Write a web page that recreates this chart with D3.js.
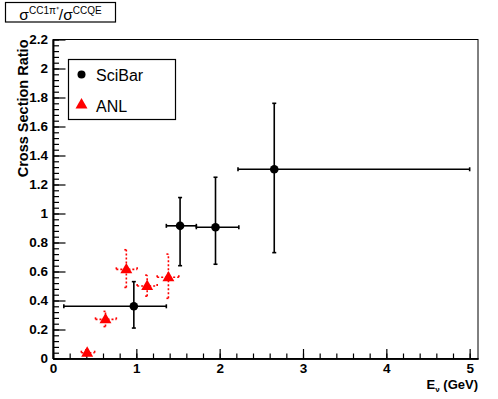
<!DOCTYPE html>
<html>
<head>
<meta charset="utf-8">
<script src="https://cdn.jsdelivr.net/npm/d3@7"></script>
<style>
  body { margin: 0; background: #fff; }
  svg { display: block; font-family: "Liberation Sans", Arial, sans-serif; }
</style>
</head>
<body>
<svg class="chart" width="498" height="399"></svg>
<script>
// SciBar points: energy (GeV), ratio, and the error bar ends
let sciE    = [0.97, 1.525, 1.95, 2.655]
let sciR    = [0.36, 0.915, 0.905, 1.305]
let sciELo  = [0.13, 1.36, 1.72, 2.22]
let sciEHi  = [1.36, 1.72, 2.23, 5.0]
let sciRLo  = [0.21, 0.64, 0.65, 0.73]
let sciRHi  = [0.53, 1.11, 1.25, 1.76]

// ANL points
let anlE    = [0.41, 0.63, 0.88, 1.13, 1.385]
let anlR    = [0.04, 0.27, 0.615, 0.50, 0.56]
let anlELo  = [0.34, 0.51, 0.76, 1.01, 1.25]
let anlEHi  = [0.50, 0.76, 1.01, 1.25, 1.51]
let anlRLo  = [0.02, 0.22, 0.49, 0.43, 0.415]
let anlRHi  = [0.06, 0.325, 0.75, 0.575, 0.72]

let xTicks = [0, 1, 2, 3, 4, 5]
let yTicks = [0, 0.2, 0.4, 0.6, 0.8, 1, 1.2, 1.4, 1.6, 1.8, 2, 2.2]
let legendNames = ["SciBar", "ANL"]

let frame = { left: 53, right: 478, top: 39.5, bottom: 358.5 }

let x = d3.scaleLinear().domain([0, 5.1]).range([frame.left, frame.right])
let y = d3.scaleLinear().domain([0, 2.2]).range([frame.bottom, frame.top])

let svg = d3.select(".chart")

// frame
svg.append("rect")
    .attr("x", frame.left)
    .attr("y", frame.top)
    .attr("width", frame.right - frame.left)
    .attr("height", frame.bottom - frame.top)
    .attr("fill", "none")
    .attr("stroke", "#000")
    .attr("stroke-width", 1)

// minor ticks
let xMinor = d3.range(0, 5.1001, 0.2).map(d => +d.toFixed(2))
let yMinor = d3.range(0, 2.2001, 0.04).map(d => +d.toFixed(2))

svg.append("g")
    .attr("transform", "translate(0," + frame.bottom + ")")
    .call(d3.axisBottom(x).tickValues(xMinor).tickSize(-5).tickSizeOuter(0).tickFormat(""))
svg.append("g")
    .attr("transform", "translate(" + frame.left + ",0)")
    .call(d3.axisLeft(y).tickValues(yMinor).tickSize(-6).tickSizeOuter(0).tickFormat(""))

// major ticks with labels
let xAxis = svg.append("g")
    .attr("class", "x axis")
    .attr("transform", "translate(0," + frame.bottom + ")")
    .call(d3.axisBottom(x).tickValues(xTicks).tickSize(-9.5).tickSizeOuter(0).tickPadding(5).tickFormat(d3.format("d")))

let yAxis = svg.append("g")
    .attr("class", "y axis")
    .attr("transform", "translate(" + frame.left + ",0)")
    .call(d3.axisLeft(y).tickValues(yTicks).tickSize(-12.5).tickSizeOuter(0).tickPadding(5).tickFormat(d => d3.format("~g")(d)))

svg.selectAll(".axis text")
    .attr("font-size", 13.5)
    .attr("font-weight", "bold")
    .attr("fill", "#000")
    .attr("font-family", "'Liberation Sans', Arial, sans-serif")
svg.selectAll(".x.axis text").attr("dy", "0.71em")
svg.selectAll("g .domain").attr("stroke", "#000").attr("stroke-width", 1.5)
svg.selectAll("g .tick line").attr("stroke", "#000").attr("stroke-width", 1.2)

// axis titles
svg.append("text")
    .attr("transform", "translate(27.5," + frame.top + ") rotate(-90)")
    .attr("text-anchor", "end")
    .attr("font-size", 14.5)
    .attr("font-weight", "bold")
    .text("Cross Section Ratio")

let xt = svg.append("text")
    .attr("x", frame.right)
    .attr("y", 388.5)
    .attr("text-anchor", "end")
    .attr("font-size", 13)
    .attr("font-weight", "bold")
xt.append("tspan").text("E")
xt.append("tspan").attr("font-size", 8).attr("dy", 3).text("ν")
xt.append("tspan").attr("dy", -3).text(" (GeV)")

// title box
svg.append("rect")
    .attr("x", 5.5).attr("y", 2.5)
    .attr("width", 110).attr("height", 19.5)
    .attr("fill", "#fff").attr("stroke", "#000").attr("stroke-width", 1.2)
let tt = svg.append("text")
    .attr("x", 60.5).attr("y", 19.5)
    .attr("text-anchor", "middle")
    .attr("font-size", 15.5)
tt.append("tspan").text("σ")
tt.append("tspan").attr("font-size", 10).attr("dy", -6).text("CC1π⁺")
tt.append("tspan").attr("dy", 6).text("/σ")
tt.append("tspan").attr("font-size", 10).attr("dy", -6).text("CCQE")

// error bars
function drawErrors(g, ex, ey, exLo, exHi, eyLo, eyHi, color, dash) {
  let cap = 2
  ex.forEach(function(e, i) {
    let segs = [
      [x(exLo[i]), y(ey[i]), x(exHi[i]), y(ey[i])],
      [x(e), y(eyLo[i]), x(e), y(eyHi[i])],
      [x(exLo[i]), y(ey[i]) - cap, x(exLo[i]), y(ey[i]) + cap],
      [x(exHi[i]), y(ey[i]) - cap, x(exHi[i]), y(ey[i]) + cap],
      [x(e) - cap, y(eyLo[i]), x(e) + cap, y(eyLo[i])],
      [x(e) - cap, y(eyHi[i]), x(e) + cap, y(eyHi[i])]
    ]
    segs.forEach(function(s) {
      g.append("line")
          .attr("x1", s[0]).attr("y1", s[1])
          .attr("x2", s[2]).attr("y2", s[3])
          .attr("stroke", color)
          .attr("stroke-width", 1.6)
          .attr("stroke-dasharray", dash)
    })
  })
}

let anlG = svg.append("g")
drawErrors(anlG, anlE, anlR, anlELo, anlEHi, anlRLo, anlRHi, "#ff0000", "2,2")
let sciG = svg.append("g")
drawErrors(sciG, sciE, sciR, sciELo, sciEHi, sciRLo, sciRHi, "#000", null)

let tri = d3.symbol().type(d3.symbolTriangle).size(62)

anlG.selectAll("path.pt")
    .data(anlE)
  .enter().append("path")
    .attr("class", "pt")
    .attr("d", tri)
    .attr("transform", (d, i) => "translate(" + x(d) + "," + (y(anlR[i]) + 0.5) + ")")
    .attr("fill", "#ff0000")

sciG.selectAll("circle")
    .data(sciE)
  .enter().append("circle")
    .attr("cx", d => x(d))
    .attr("cy", (d, i) => y(sciR[i]))
    .attr("r", 4.3)
    .attr("fill", "#000")

// legend
let leg = svg.append("g")
leg.append("rect")
    .attr("x", 68.5).attr("y", 59.5)
    .attr("width", 107).attr("height", 60)
    .attr("fill", "#fff").attr("stroke", "#000").attr("stroke-width", 1.2)

leg.append("circle").attr("cx", 81.5).attr("cy", 74.5).attr("r", 4).attr("fill", "#000")
leg.append("path").attr("d", tri).attr("transform", "translate(81.5,105)").attr("fill", "#ff0000")

leg.selectAll("text.lab")
    .data(legendNames)
  .enter().append("text")
    .attr("class", "lab")
    .attr("x", 96)
    .attr("y", (d, i) => 80.5 + i * 31)
    .attr("font-size", 16)
    .text(d => d)
</script>
</body>
</html>
